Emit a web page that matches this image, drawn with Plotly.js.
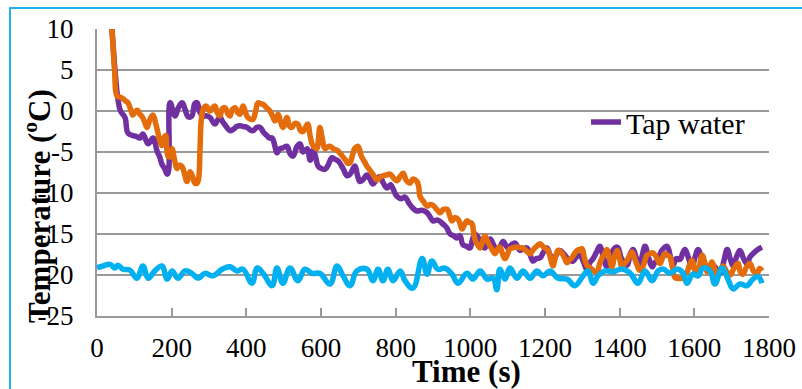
<!DOCTYPE html>
<html>
<head>
<meta charset="utf-8">
<script src="https://cdn.plot.ly/plotly-3.0.1.min.js"></script>
<style>
html,body{margin:0;padding:0;background:#fff;}
#chart{width:802px;height:389px;}
</style>
</head>
<body>
<div id="chart"></div>
<script>
// ---- data ----
const tapTime = [30,40,50,56,63,75,83,96,105,115,123,137,150,161,168,174,181,188,192,196,209,218,228,236,244,254,262,268,276,284,294,303,310,316,322,329,338,348,356,366,374,383,392,402,410,418,428,437,446,455,462,469,476,482,490,498,509,517,525,536,544,552,563,571,579,585,592,600,611,620,629,638,646,659,670,678,686,691,698,704,712,723,731,739,748,758,767,777,786,793,800,806,815,825,835,845,857,870,884,892,900,913,927,936,946,955,964,972,980,990,999,1005,1012,1019,1026,1032,1039,1046,1053,1062,1071,1080,1088,1095,1101,1110,1120,1127,1133,1142,1152,1160,1168,1177,1187,1196,1205,1213,1221,1230,1240,1250,1259,1267,1275,1284,1294,1303,1312,1320,1329,1338,1347,1356,1366,1374,1382,1390,1396,1405,1420,1428,1436,1445,1454,1461,1468,1477,1487,1494,1500,1513,1527,1535,1543,1552,1562,1569,1575,1585,1594,1602,1610,1622,1634,1642,1650,1660,1669,1678,1688,1696,1704,1713,1722,1732,1741,1749,1757,1770,1781];
const tapTemp = [16,10,4,1.5,0,-0.8,-2.7,-3.0,-3.1,-3.3,-2.8,-4.0,-3.3,-4.9,-5.6,-6.5,-7.0,-7.7,-7.2,1.0,-0.6,0.4,1.0,0.2,-0.7,-0.6,0.9,1.0,-0.2,-0.6,-0.6,-0.8,-1.3,-1.6,-1.2,-0.8,-1.4,-2.0,-2.4,-2.2,-1.9,-1.8,-1.9,-2.0,-2.3,-2.4,-2.0,-2.0,-2.6,-3.0,-3.3,-3.3,-4.2,-5.1,-4.6,-4.5,-4.3,-5.2,-5.5,-4.3,-4.0,-5.0,-4.6,-6.0,-4.8,-5.5,-6.7,-7.0,-7.1,-6.5,-5.7,-5.9,-6.1,-7.0,-7.9,-7.7,-7.0,-6.7,-7.9,-8.6,-8.4,-7.8,-8.3,-8.9,-8.4,-8.0,-8.8,-9.4,-9.0,-9.5,-10.2,-10.5,-10.7,-10.5,-11.2,-11.8,-12.2,-12.1,-12.4,-12.9,-13.4,-13.3,-13.8,-14.2,-15.0,-15.2,-15.5,-15.2,-16.3,-16.5,-16.7,-15.8,-15.0,-15.3,-15.8,-16.5,-16.7,-16.0,-15.6,-16.3,-17.0,-16.5,-15.9,-16.4,-16.7,-16.3,-16.1,-16.6,-17.0,-16.8,-16.7,-17.5,-18.3,-18.0,-17.9,-17.2,-16.7,-17.5,-18.3,-17.6,-17.0,-17.4,-17.9,-18.2,-18.3,-17.8,-17.6,-18.4,-19.3,-18.5,-18.0,-17.2,-16.5,-17.8,-19.0,-18.0,-17.0,-16.6,-16.7,-18.0,-18.8,-17.5,-16.9,-18.0,-19.0,-17.5,-16.5,-17.8,-19.0,-18.5,-18.3,-17.0,-16.5,-17.6,-18.8,-18.0,-18.1,-17.3,-16.9,-18.0,-19.0,-17.8,-16.9,-18.4,-19.4,-18.8,-18.8,-19.3,-19.8,-18.5,-16.9,-18.0,-18.9,-17.8,-17.0,-18.0,-18.6,-17.8,-17.4,-16.9,-16.6];

const orangeTime = [30,40,47,54,62,70,77,83,90,96,102,108,115,121,128,134,142,150,157,163,168,174,180,184,190,196,201,208,214,221,228,234,241,249,256,262,268,272,276,280,286,292,303,310,316,322,329,336,343,350,356,363,370,377,383,391,398,404,411,418,425,431,438,445,454,463,470,477,485,491,498,509,515,522,530,538,545,552,558,565,570,576,582,589,593,597,602,607,611,617,624,633,643,650,659,666,672,678,683,690,699,708,718,724,731,740,750,758,766,775,785,795,804,812,820,829,838,847,857,862,865,874,884,892,900,910,919,928,938,945,951,958,967,973,978,985,991,998,1004,1008,1012,1019,1026,1032,1039,1046,1053,1060,1066,1072,1079,1086,1093,1100,1106,1113,1120,1127,1133,1140,1146,1153,1160,1167,1173,1180,1187,1194,1200,1208,1215,1221,1228,1235,1240,1246,1253,1259,1266,1272,1279,1286,1292,1299,1305,1312,1320,1326,1333,1339,1346,1353,1360,1366,1373,1379,1386,1393,1400,1406,1413,1420,1427,1433,1440,1446,1453,1460,1466,1473,1481,1489,1498,1508,1514,1521,1528,1535,1541,1548,1557,1567,1573,1580,1587,1594,1600,1607,1614,1621,1628,1634,1641,1647,1654,1661,1669,1677,1687,1696,1706,1717,1723,1730,1740,1749,1758,1768,1775,1781];
const orangeTemp = [16,10,5,1.8,1.7,1.5,1.2,1.0,0.2,-0.5,-0.1,0.1,-0.4,-0.7,-1.4,-2.0,-1.0,-0.5,-1.5,-2.6,-3.6,-4.2,-3.2,-3.0,-5.5,-5.6,-4.6,-6.0,-7.0,-6.6,-6.8,-7.6,-8.6,-7.4,-8.0,-8.8,-8.8,-8.3,-4.5,-0.8,0.4,0.6,0,0.4,0.6,-0.2,-0.6,0.3,0.4,-0.3,-0.6,0.2,0.4,-0.2,-0.4,0.6,-0.2,-0.8,-1.0,-1.0,0,1.0,0.9,0.8,0.4,0,-0.6,-1.2,-0.4,-1.2,-2.0,-0.8,-1.8,-2.0,-1.5,-1.6,-2.4,-2.5,-2.0,-1.6,-2.8,-4.0,-4.4,-4.6,-3.5,-2.0,-3.0,-4.2,-4.6,-4.4,-4.3,-4.6,-4.8,-5.1,-5.6,-6.0,-6.4,-6.3,-5.6,-4.6,-4.3,-5.5,-6.3,-6.8,-7.2,-7.8,-8.4,-8.1,-7.9,-7.8,-7.7,-8.2,-8.5,-8.0,-7.6,-8.5,-8.8,-8.3,-8.6,-9.3,-10.4,-11.0,-11.6,-11.4,-11.5,-12.0,-12.4,-12.0,-12.0,-12.8,-13.4,-13.0,-13.2,-13.8,-14.4,-13.8,-13.4,-13.6,-13.7,-14.5,-15.6,-16.3,-16.7,-16.0,-15.2,-15.9,-16.5,-17.0,-17.4,-16.9,-16.6,-17.4,-18.0,-17.4,-16.8,-16.7,-16.6,-16.6,-16.7,-16.7,-16.9,-17.2,-17.4,-17.0,-16.7,-16.4,-16.2,-16.5,-16.7,-17.0,-18.0,-18.9,-17.8,-17.0,-17.1,-17.4,-18.0,-18.5,-18.1,-17.9,-17.4,-17.0,-16.9,-16.8,-17.8,-18.8,-19.1,-19.3,-19.6,-19.7,-18.7,-17.9,-17.4,-16.9,-18.0,-19.0,-17.8,-17.0,-18.0,-19.0,-18.6,-18.2,-17.6,-17.2,-18.0,-18.7,-19.4,-19.2,-18.5,-17.6,-17.4,-17.3,-17.8,-18.6,-18.0,-17.4,-17.6,-17.8,-19.0,-20.3,-20.4,-20.4,-20.0,-19.7,-18.8,-18.2,-19.2,-20.0,-18.8,-17.6,-18.5,-19.6,-19.0,-18.4,-19.2,-19.9,-19.4,-18.9,-19.6,-20.0,-19.2,-18.6,-19.6,-19.9,-19.0,-18.6,-19.5,-19.8,-19.2,-19.5];

const blueTime = [0,16,35,48,56,70,88,107,123,137,155,174,188,201,217,236,254,271,289,311,335,356,375,391,415,429,445,469,482,498,517,538,557,576,597,624,643,659,678,696,723,739,753,766,779,793,812,825,846,871,884,897,913,932,951,967,991,1007,1026,1045,1061,1071,1079,1093,1106,1125,1141,1160,1178,1195,1213,1235,1259,1280,1299,1315,1329,1342,1361,1382,1406,1428,1449,1468,1487,1503,1516,1535,1554,1570,1580,1596,1610,1623,1642,1655,1674,1690,1704,1722,1741,1757,1771,1781];
const blueTemp = [-19.1,-18.9,-18.7,-19.15,-18.8,-19.3,-19.4,-20.4,-18.9,-20.4,-19.5,-18.9,-20.5,-19.5,-20.4,-19.5,-19.8,-20.4,-19.8,-20.1,-19.3,-19.0,-19.5,-19.3,-21.0,-19.15,-19.8,-21.3,-19.15,-21.0,-19.15,-20.7,-19.3,-19.8,-19.8,-21.1,-18.9,-20.1,-21.3,-19.5,-19.3,-20.7,-19.3,-20.7,-19.3,-20.7,-19.5,-20.7,-21.6,-18.0,-19.9,-18.3,-19.3,-19.15,-19.9,-21.0,-19.8,-20.5,-19.5,-20.5,-20.4,-21.8,-19.3,-20.5,-19.15,-20.4,-19.5,-20.4,-19.5,-20.1,-19.5,-20.4,-20.5,-21.3,-20.3,-19.5,-21.0,-20.1,-19.5,-19.6,-19.27,-19.76,-21.0,-19.5,-20.7,-19.5,-19.27,-19.76,-19.27,-19.76,-21.0,-19.9,-20.1,-19.15,-19.5,-21.1,-19.15,-20.5,-21.7,-21.1,-21.3,-20.5,-20.2,-21.0];

const xTicks = [0,200,400,600,800,1000,1200,1400,1600,1800];
const yTicks = [10,5,0,-5,-10,-15,-20,-25];
const yTickText = ["10","5","0","-5","-10","-15","-20","-25"];
const legendName = "Tap water";
const xTitle = "Time (s)";
const yTitle = "Temperature (<sup>o</sup>C)";

// ---- chart ----
const W = 802, H = 389;
const L = 97, R = 33, T = 29, B = 73;
const pw = W - L - R, ph = H - T - B;
const px = v => (v - L) / pw;          // pixel -> paper x
const py = v => (H - B - v) / ph;      // pixel -> paper y

const serif = '"Liberation Serif", "Times New Roman", Times, serif';
const lineW = 5.5;

const traces = [
  {x: tapTime, y: tapTemp, name: legendName, type: 'scatter', mode: 'lines',
   line: {color: '#7030A0', width: lineW, shape: 'spline', smoothing: 1.2}, showlegend: true},
  {x: orangeTime, y: orangeTemp, name: 'Series 2', type: 'scatter', mode: 'lines',
   line: {color: '#E46C0A', width: lineW, shape: 'spline', smoothing: 1.2}, showlegend: false},
  {x: blueTime, y: blueTemp, name: 'Series 3', type: 'scatter', mode: 'lines',
   line: {color: '#00B0F0', width: lineW, shape: 'spline', smoothing: 1.2}, showlegend: false}
];

const layout = {
  width: W, height: H,
  margin: {l: L, r: R, t: T, b: B, pad: 0},
  paper_bgcolor: '#fff', plot_bgcolor: '#fff',
  font: {family: serif, color: '#000', size: 27},
  xaxis: {
    range: [0, 1800], tickvals: xTicks, ticks: 'inside', ticklen: 8, tickwidth: 2,
    tickcolor: '#999', showline: true, linecolor: '#999', linewidth: 2,
    showgrid: false, zeroline: false, tickfont: {family: serif, size: 27, color: '#000'},
    ticklabelstandoff: 7
  },
  yaxis: {
    range: [-25, 10], tickvals: yTicks, ticktext: yTickText, ticks: '',
    showline: true, linecolor: '#999', linewidth: 2,
    showgrid: true, gridcolor: '#999', gridwidth: 2, zeroline: false,
    tickfont: {family: serif, size: 27, color: '#000'}, ticklabelstandoff: 16
  },
  showlegend: true,
  legend: {x: px(586), y: py(122), xanchor: 'left', yanchor: 'middle',
           bgcolor: 'rgba(0,0,0,0)', font: {family: serif, size: 30, color: '#000'},
           itemwidth: 30, tracegroupgap: 0},
  annotations: [
    {text: '<b>' + xTitle + '</b>', xref: 'paper', yref: 'paper', x: px(466), y: py(371),
     xanchor: 'center', yanchor: 'middle', showarrow: false,
     font: {family: serif, size: 31, color: '#000'}},
    {text: '<b>' + yTitle + '</b>', xref: 'paper', yref: 'paper', x: px(37), y: py(206),
     xanchor: 'center', yanchor: 'middle', showarrow: false, textangle: -90,
     font: {family: serif, size: 31, color: '#000'}}
  ],
  shapes: [
    {type: 'rect', xref: 'paper', yref: 'paper', x0: px(10), x1: px(830), y0: py(420), y1: py(8),
     line: {color: '#1FB5EC', width: 2}, fillcolor: 'rgba(0,0,0,0)', layer: 'below'}
  ]
};

Plotly.newPlot('chart', traces, layout, {staticPlot: true, displayModeBar: false});
</script>
</body>
</html>
